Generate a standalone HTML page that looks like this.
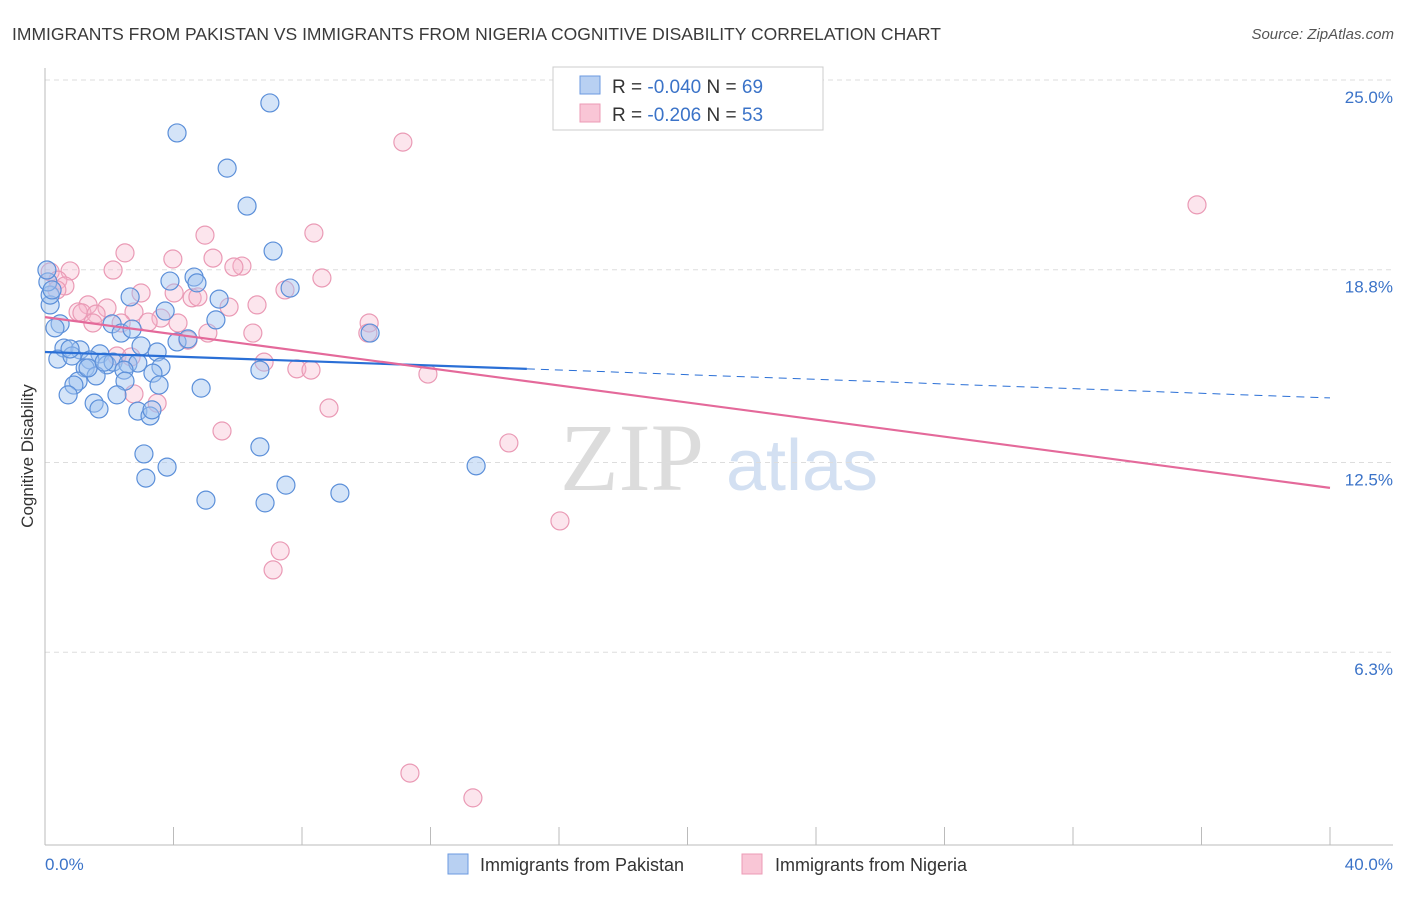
<!DOCTYPE html>
<html><head><meta charset="utf-8"><style>
body{margin:0;background:#fff;font-family:"Liberation Sans",sans-serif;}
</style></head><body>
<svg width="1406" height="892" xmlns="http://www.w3.org/2000/svg" font-family="Liberation Sans, sans-serif">
<text x="12" y="40" font-size="17.5" fill="#3a3a3a">IMMIGRANTS FROM PAKISTAN VS IMMIGRANTS FROM NIGERIA COGNITIVE DISABILITY CORRELATION CHART</text>
<text x="1394" y="39" font-size="15" fill="#555" font-style="italic" text-anchor="end">Source: ZipAtlas.com</text>
<g>
<text x="632" y="490" font-size="96" fill="#dcdcdc" font-family="Liberation Serif, serif" text-anchor="middle">ZIP</text>
<text x="802" y="490" font-size="72" fill="#d3e0f2" text-anchor="middle">atlas</text>
</g>
<g id="grid"></g>
<g id="axes"></g>
<g id="marks"></g>
<text transform="translate(33,456) rotate(-90)" font-size="17" fill="#333" text-anchor="middle">Cognitive Disability</text>
<g>
<rect x="553" y="67" width="270" height="63" fill="#fff" stroke="#ccc"/>
<rect x="580" y="76" width="20" height="18" fill="#b8d0f2" stroke="#6b9ae0"/>
<rect x="580" y="104" width="20" height="18" fill="#f9c6d6" stroke="#ec9bb6"/>
<text x="612" y="93" font-size="19" fill="#333">R = <tspan fill="#3b73c8">-0.040</tspan>   N = <tspan fill="#3b73c8">69</tspan></text>
<text x="612" y="121" font-size="19" fill="#333">R =  <tspan fill="#3b73c8">-0.206</tspan>   N = <tspan fill="#3b73c8">53</tspan></text>
</g>
<g>
<rect x="448" y="854" width="20" height="20" fill="#b8d0f2" stroke="#6b9ae0"/>
<text x="480" y="871" font-size="18" fill="#333">Immigrants from Pakistan</text>
<rect x="742" y="854" width="20" height="20" fill="#f9c6d6" stroke="#ec9bb6"/>
<text x="775" y="871" font-size="18" fill="#333">Immigrants from Nigeria</text>
</g>
</svg>
<script>
const yTicks=[25.0,18.8,12.5,6.3];
const yTickLabels=["25.0%","18.8%","12.5%","6.3%"];
const xTicks=[0,4,8,12,16,20,24,28,32,36,40];
const xTickLabels=["0.0%","40.0%"];
const pakX=[7.00,4.11,5.67,6.29,7.10,4.64,3.89,4.73,7.63,2.65,5.42,3.74,0.16,5.32,0.47,2.09,0.31,2.37,2.71,10.12,4.11,4.45,2.99,0.59,1.09,1.71,3.49,0.40,0.84,1.40,1.93,2.12,2.58,2.89,3.61,1.25,2.46,6.69,1.59,3.36,1.03,0.90,2.49,3.55,4.86,0.72,2.24,1.53,1.68,2.89,3.27,3.33,6.69,3.08,3.80,13.42,3.14,7.50,9.18,5.01,6.85,0.16,0.09,0.22,0.06,1.34,1.84,0.78];
const pakY=[24.25,23.27,22.12,20.88,19.41,18.56,18.43,18.37,18.20,17.91,17.84,17.45,17.65,17.16,17.03,17.03,16.90,16.73,16.86,16.73,16.44,16.54,16.31,16.24,16.18,16.05,16.11,15.88,15.98,15.85,15.69,15.78,15.72,15.75,15.62,15.59,15.52,15.52,15.33,15.42,15.16,15.03,15.16,15.03,14.93,14.71,14.71,14.44,14.25,14.18,14.02,14.22,13.01,12.78,12.35,12.39,11.99,11.76,11.50,11.27,11.18,17.97,18.40,18.14,18.79,15.59,15.78,16.21];
const nigX=[11.14,35.86,4.98,8.37,2.49,3.98,5.23,6.13,5.88,2.12,0.78,0.16,8.62,0.40,0.62,0.37,7.47,2.99,4.02,4.58,4.76,1.34,5.73,6.60,1.93,1.03,1.15,1.59,2.77,3.61,4.14,3.21,10.09,2.37,1.49,5.07,6.47,10.05,4.45,2.24,2.68,6.82,7.84,8.28,11.92,2.77,3.49,8.84,5.51,14.44,16.03,7.32,7.10,11.36,13.32];
const nigY=[22.97,20.92,19.93,20.00,19.35,19.15,19.18,18.92,18.89,18.79,18.76,18.73,18.53,18.46,18.27,18.14,18.14,18.04,18.04,17.88,17.91,17.65,17.58,17.65,17.55,17.42,17.39,17.35,17.42,17.22,17.06,17.09,17.06,17.06,17.06,16.73,16.73,16.73,16.50,15.98,15.95,15.78,15.56,15.52,15.39,14.74,14.44,14.28,13.53,13.14,10.59,9.61,8.99,2.35,1.54];
const pakTrend=[16.11,15.56,14.61]; const pakTrendX=[0,15,40];
const nigTrend=[17.25,11.67]; const nigTrendX=[0,40];
const NS="http://www.w3.org/2000/svg";
const X0=45,X1=1330,Y0=845,Y25=80;
function xs(v){return X0+(v/40)*(X1-X0);}
function ys(v){return Y0-(v/25)*(Y0-Y25);}
function mk(tag,attrs,parent){const e=document.createElementNS(NS,tag);for(const k in attrs)e.setAttribute(k,attrs[k]);document.getElementById(parent).appendChild(e);return e;}
yTicks.forEach((t,i)=>{
 const l=mk('line',{x1:X0,x2:1393,y1:ys(t),y2:ys(t),stroke:'#ddd','stroke-dasharray':'5,4'},'grid');
 
 
 const tx=mk('text',{x:1393,y:ys(t)+23,'font-size':17,fill:'#3b73c8','text-anchor':'end'},'axes');
 tx.textContent=yTickLabels[i];
 
 
});
let ax=mk('line',{x1:X0,x2:X0,y1:68,y2:Y0,stroke:'#bbb'},'axes');


ax=mk('line',{x1:X0,x2:1393,y1:Y0,y2:Y0,stroke:'#bbb'},'axes');


xTicks.forEach(t=>{
 const l=mk('line',{x1:xs(t),x2:xs(t),y1:Y0,y2:Y0-18,stroke:'#bbb'},'axes');
 
 
});
[[0,'start',45],[40,'end',1393]].forEach((d,i)=>{
 const tx=mk('text',{x:d[2],y:870,'font-size':17,fill:'#3b73c8','text-anchor':d[1]},'axes');
 tx.textContent=xTickLabels[i];
 
 
});
function dots(X,Y,fill,stroke,name){X.forEach((x,i)=>{
 const c=mk('circle',{cx:xs(x),cy:ys(Y[i]),r:9,fill:fill,stroke:stroke,'stroke-width':1.2},'marks');
 
 
});}
dots(nigX,nigY,'rgba(246,180,202,0.35)','#ea9ab5','nigeria-point');
dots(pakX,pakY,'rgba(160,195,240,0.45)','#5b8fd9','pakistan-point');
let t=mk('line',{x1:xs(pakTrendX[0]),y1:ys(pakTrend[0]),x2:xs(pakTrendX[1]),y2:ys(pakTrend[1]),stroke:'#2a6fd6','stroke-width':2.2},'marks');


t=mk('line',{x1:xs(pakTrendX[1]),y1:ys(pakTrend[1]),x2:xs(pakTrendX[2]),y2:ys(pakTrend[2]),stroke:'#2a6fd6','stroke-width':1,'stroke-dasharray':'8,6'},'marks');


t=mk('line',{x1:xs(nigTrendX[0]),y1:ys(nigTrend[0]),x2:xs(nigTrendX[1]),y2:ys(nigTrend[1]),stroke:'#e4699a','stroke-width':2.2},'marks');


</script>
</body></html>
